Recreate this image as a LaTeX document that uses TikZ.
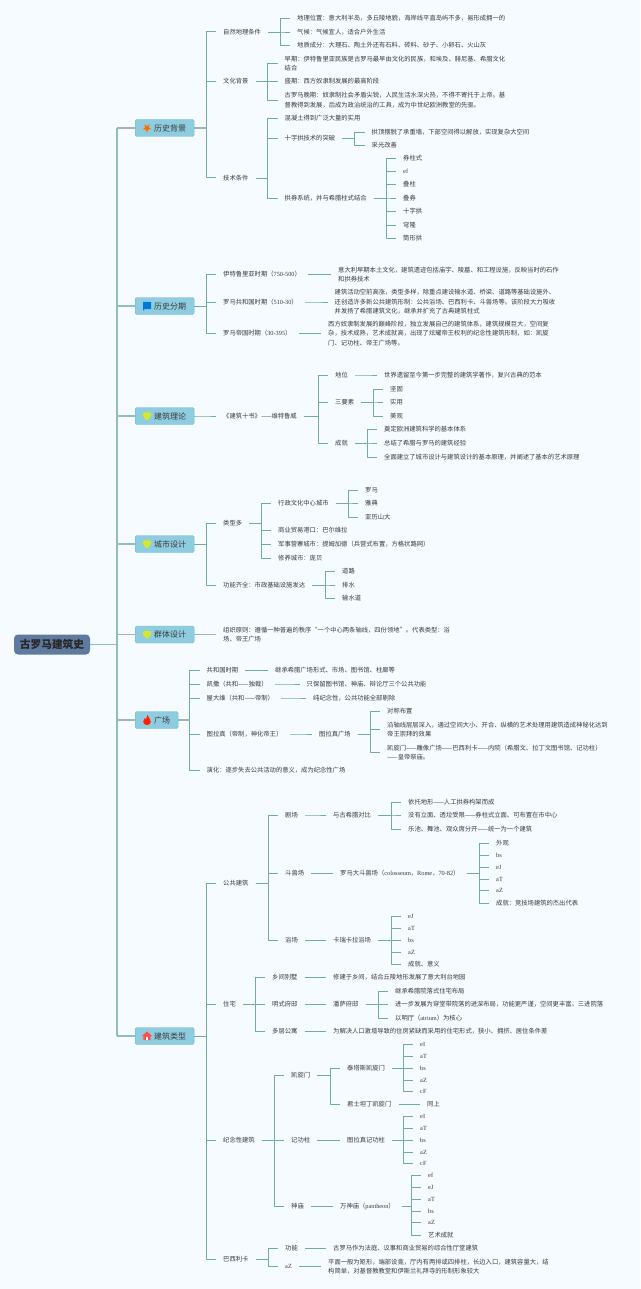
\documentclass[tikz,border=0pt]{standalone}
\usepackage{fontspec}
\setmainfont{Noto Sans CJK SC}
\newfontfamily\latf{Liberation Serif}
\newcommand{\Ltn}[1]{{\latf #1}}
\definecolor{bgc}{HTML}{F6FBFF}
\definecolor{tealc}{HTML}{6FAD9F}
\definecolor{trunkc}{HTML}{8FBFB8}
\definecolor{greyc}{HTML}{A3B3B5}
\definecolor{txtc}{HTML}{3A3A3A}
\definecolor{boxc}{HTML}{8ECDE0}
\definecolor{boxl}{HTML}{74B6CC}
\definecolor{rootc}{HTML}{607A9F}
\tikzset{
  txt/.style={anchor=west,xshift=-7pt,inner xsep=7pt,inner ysep=0pt,align=left,text=txtc,font=\fontsize{6.3}{9.4}\selectfont},
  conn/.style={draw=tealc,line width=0.8pt,line join=round},
  connb/.style={draw=tealc,line width=1pt,line join=round},
  gstub/.style={draw=greyc,line width=1.1pt},
  trunk/.style={draw=trunkc,line width=1.2pt,line join=round},
  lvlbox/.style={anchor=west,fill=boxc,draw=boxl,line width=0.4pt,rounded corners=1.5pt,minimum height=17pt,inner xsep=8pt,inner ysep=0pt,text=txtc,font=\fontsize{8}{9}\selectfont},
  rootbox/.style={fill=rootc,rounded corners=4pt,minimum width=76pt,minimum height=20pt,inner sep=0pt,text=black!85,font=\fontsize{10.7}{12}\selectfont\bfseries}
}
\newcommand{\mmT}[4]{\node[txt] (#1) at (#2,#3) {#4};}
\newcommand{\mmL}[2]{\draw[conn] (#1.east) -| ([xshift=-10pt]#2.west) -- (#2.west);}
\newcommand{\mmB}[2]{\draw[connb] (#1.east) -| ([xshift=-10pt]#2.west) -- (#2.west);}
\newcommand{\mmR}[2]{\draw[#2] (root.east) -| ([xshift=-18pt]#1.west); \draw[#2] ([xshift=-18pt]#1.west) -- (#1.west);}
\newcommand{\mmLs}[2]{\foreach \c in {#2}{\draw[conn] (#1.east) -| ([xshift=-10pt]\c.west) -- (\c.west);}}
\newcommand{\mmBs}[2]{\foreach \c in {#2}{\draw[connb] (#1.east) -| ([xshift=-10pt]\c.west) -- (\c.west);}}
\newcommand{\icoHeart}[1]{\fill[fill=#1] (0,-3.6) .. controls (2.5,-4.4) and (4.6,-3.6) .. (4.4,-1) .. controls (4.2,1.4) and (1.6,3) .. (0,4.2) .. controls (-1.6,3) and (-4.2,1.4) .. (-4.4,-1) .. controls (-4.6,-3.6) and (-2.5,-4.4) .. (0,-3.6) -- cycle;}
\begin{document}
\begin{tikzpicture}[x=1pt,y=-1pt]
\fill[bgc] (0,0) rectangle (640,1289);
\useasboundingbox (0,0) rectangle (640,1289);

% root and first level
\node[rootbox] (root) at (52,644.5) {古罗马建筑史};
\node[lvlbox] (b1) at (135,128) {\hspace{11pt}历史背景};
\node[lvlbox] (b2) at (135,306) {\hspace{11pt}历史分期};
\node[lvlbox] (b3) at (135,416) {\hspace{11pt}建筑理论};
\node[lvlbox] (b4) at (135,544) {\hspace{11pt}城市设计};
\node[lvlbox] (b5) at (135,634.5) {\hspace{11pt}群体设计};
\node[lvlbox] (b6) at (135,720) {\hspace{11pt}广场};
\node[lvlbox] (b7) at (135,1036) {\hspace{11pt}建筑类型};
\mmR{b1}{trunk}\mmR{b2}{trunk}\mmR{b3}{trunk}\mmR{b4}{trunk}\mmR{b5}{trunk}\mmR{b6}{trunk}\mmR{b7}{trunk}
\draw[gstub] ([xshift=-18pt]b1.west) -- (b1.west);
\draw[gstub] ([xshift=-18pt]b5.west) -- (b5.west);
\draw[gstub] ([xshift=-18pt]b6.west) -- (b6.west);

% icons
\begin{scope}[shift={(147,128)}]
\fill[fill=orange!85!red] (90:4.6) -- (126:1.9) -- (162:4.6) -- (198:1.9) -- (234:4.6) -- (270:1.9) -- (306:4.6) -- (342:1.9) -- (18:4.6) -- (54:1.9) -- cycle;
\end{scope}
\begin{scope}[shift={(147,306)}]
\fill[fill=blue!45!cyan!85!black] (-4,-4.2) -- (4,-4.2) -- (4,3) -- (-3,3) -- (-3,4.4) -- (-4,4.4) -- cycle;
\end{scope}
\begin{scope}[shift={(147,416)}]\icoHeart{yellow!80!green!85!white}\end{scope}
\begin{scope}[shift={(147,544)}]\icoHeart{yellow!80!green!85!white}\end{scope}
\begin{scope}[shift={(147,634.5)}]\icoHeart{yellow!80!green!85!white}\end{scope}
\begin{scope}[shift={(147,720)}]
\fill[fill=red!75!orange] (0.4,-5) .. controls (1,-2.6) and (4,-1) .. (3.8,1.8) .. controls (3.6,4) and (1.8,5) .. (0,5) .. controls (-2,5) and (-3.8,3.8) .. (-3.8,1.6) .. controls (-3.8,0) and (-2.8,-0.8) .. (-2.2,-2) .. controls (-1.6,-1.2) and (-1.4,-0.8) .. (-1,-0.6) .. controls (-0.8,-2) and (-0.4,-3.6) .. (0.4,-5) -- cycle;
\end{scope}
\begin{scope}[shift={(147,1036)}]
\fill[fill=red!70!white] (0,-4.6) -- (5,0) -- (3.6,0) -- (3.6,4.2) -- (-3.6,4.2) -- (-3.6,0) -- (-5,0) -- cycle;
\fill[fill=white] (-1.3,1) rectangle (1.3,4.2);
\end{scope}

% ---- 历史背景
\mmT{a1}{223}{32}{自然地理条件}
\mmT{a11}{297}{18}{地理位置：意大利半岛，多丘陵地貌，海岸线平直岛屿不多，易形成拥一的}
\mmT{a12}{297}{32}{气候：气候宜人，适合户外生活}
\mmT{a13}{297}{45.5}{地质成分：大理石、陶土外还有石料、砖料、砂子、小卵石、火山灰}
\mmT{a2}{223}{81.5}{文化背景}
\mmT{a21}{284.5}{63.5}{早期：伊特鲁里亚民族是古罗马最早由文化的民族，和埃及、腓尼基、希腊文化\\结合}
\mmT{a22}{284.5}{81.5}{盛期：西方奴隶制发展的最高阶段}
\mmT{a23}{284.5}{100}{古罗马晚期：奴隶制社会矛盾尖锐，人民生活水深火热，不得不寄托于上帝。基\\督教得到发展，后成为政治统治的工具，成为中世纪欧洲教堂的先驱。}
\mmT{a3}{223}{178}{技术条件}
\mmT{a31}{284.5}{118}{混凝土得到广泛大量的实用}
\mmT{a32}{284.5}{138}{十字拱技术的突破}
\mmT{a321}{371.5}{132}{拱顶摆脱了承重墙，下部空间得以解放，实现复杂大空间}
\mmT{a322}{371.5}{145}{采光改善}
\mmT{a33}{284.5}{198}{拱券系统，并与希腊柱式结合}
\mmT{a331}{403}{158.5}{券柱式}
\mmT{a332}{403}{171.5}{\Ltn{ef}}
\mmT{a333}{403}{184.5}{叠柱}
\mmT{a334}{403}{198}{叠券}
\mmT{a335}{403}{211.5}{十字拱}
\mmT{a336}{403}{225}{穹隆}
\mmT{a337}{403}{238.5}{筒形拱}
\mmBs{b1}{a1,a2,a3}
\mmLs{a1}{a11,a12,a13}
\mmLs{a2}{a21,a22,a23}
\mmLs{a3}{a31,a32,a33}
\mmLs{a32}{a321,a322}
\mmLs{a33}{a331,a332,a333,a334,a335,a336,a337}
\draw[gstub] (b1.east) -- ++(13,0);

% ---- 历史分期
\mmT{c1}{223}{274.5}{伊特鲁里亚时期（\Ltn{750-500}）}
\mmT{c11}{338}{274.5}{意大利早期本土文化，建筑遗迹包括庙宇、陵墓、和工程设施，反映当时的石作\\和拱券技术}
\mmT{c2}{223}{302}{罗马共和国时期（\Ltn{510-30}）}
\mmT{c21}{334.5}{302}{建筑活动空前高涨，类型多样，除重点建设输水道、桥梁、道路等基础设施外、\\还创造许多新公共建筑形制：公共浴场、巴西利卡、斗兽场等。该阶段大力吸收\\并发扬了希腊建筑文化，继承并扩充了古典建筑柱式}
\mmT{c3}{223}{333.5}{罗马帝国时期（\Ltn{30-395}）}
\mmT{c31}{328}{333.5}{西方奴隶制发展的巅峰阶段，独立发展自己的建筑体系，建筑规模巨大，空间复\\杂，技术成熟，艺术成就高，出现了炫耀帝王权利的纪念性建筑形制，如：凯旋\\门、记功柱、帝王广场等。}
\mmBs{b2}{c1,c2,c3}
\mmL{c1}{c11}\mmL{c2}{c21}\mmL{c3}{c31}

% ---- 建筑理论
\mmT{d1}{223}{416}{《建筑十书》——维特鲁威}
\mmT{d11}{335}{375}{地位}
\mmT{d111}{384}{375}{世界遗留至今第一步完整的建筑学著作，复兴古典的范本}
\mmT{d12}{335}{402}{三要素}
\mmT{d121}{390}{389}{坚固}
\mmT{d122}{390}{402}{实用}
\mmT{d123}{390}{416}{美观}
\mmT{d13}{335}{443}{成就}
\mmT{d131}{384}{429.5}{奠定欧洲建筑科学的基本体系}
\mmT{d132}{384}{443}{总结了希腊与罗马的建筑经验}
\mmT{d133}{384}{457}{全面建立了城市设计与建筑设计的基本原理，并阐述了基本的艺术原理}
\mmB{b3}{d1}
\mmLs{d1}{d11,d12,d13}
\mmL{d11}{d111}
\mmLs{d12}{d121,d122,d123}
\mmLs{d13}{d131,d132,d133}

% ---- 城市设计
\mmT{e1}{223}{523.5}{类型多}
\mmT{e11}{278}{503}{行政文化中心城市}
\mmT{e111}{365}{490}{罗马}
\mmT{e112}{365}{503}{雅典}
\mmT{e113}{365}{517}{亚历山大}
\mmT{e12}{278}{530.5}{商业贸易港口：巴尔维拉}
\mmT{e13}{278}{544}{军事营寨城市：提姆加德（兵营式布置，方格状路网）}
\mmT{e14}{278}{558}{修养城市：庞贝}
\mmT{e2}{223}{585}{功能齐全：市政基础设施发达}
\mmT{e21}{342}{571.5}{道路}
\mmT{e22}{342}{585}{排水}
\mmT{e23}{342}{598.5}{输水道}
\mmBs{b4}{e1,e2}
\mmLs{e1}{e11,e12,e13,e14}
\mmLs{e11}{e111,e112,e113}
\mmLs{e2}{e21,e22,e23}

% ---- 群体设计
\mmT{f1}{223}{634.5}{组织原则：遵循一种普遍的秩序“一个中心两条轴线，四份领地”。代表类型：浴\\场、帝王广场}
\draw[gstub] (b5.east) -- (f1.west);

% ---- 广场
\mmT{g1}{206.5}{670.5}{共和国时期}
\mmT{g11}{275}{670.5}{继承希腊广场形式、市场、图书馆、柱廊等}
\mmT{g2}{206.5}{684}{凯撒（共和——独裁）}
\mmT{g21}{306.5}{684}{只保留图书馆、神庙、辩论厅三个公共功能}
\mmT{g3}{206.5}{698}{屋大维（共和——帝制）}
\mmT{g31}{313}{698}{纯纪念性，公共功能全部剔除}
\mmT{g4}{206.5}{734}{图拉真（帝制，神化帝王）}
\mmT{g41}{319}{734}{图拉真广场}
\mmT{g411}{387}{711.5}{对称布置}
\mmT{g412}{387}{729.5}{沿轴线层层深入，通过空间大小、开合、纵横的艺术处理用建筑造成神秘化达到\\帝王崇拜的效果}
\mmT{g413}{387}{752.5}{凯旋门——雕像广场——巴西利卡——内院（希腊文、拉丁文图书馆、记功柱）\\——皇帝祭庙。}
\mmT{g5}{206.5}{770}{演化：逐步失去公共活动的意义，成为纪念性广场}
\mmBs{b6}{g1,g2,g3,g4,g5}
\draw[gstub] (b6.east) -- ++(12,0);
\mmL{g1}{g11}\mmL{g2}{g21}\mmL{g3}{g31}\mmL{g4}{g41}
\mmLs{g41}{g411,g412,g413}

% ---- 建筑类型: 公共建筑
\mmT{h1}{223}{883}{公共建筑}
\mmT{h11}{285}{815}{剧场}
\mmT{h111}{333}{815}{与古希腊对比}
\mmT{h1111}{408}{802}{依托地形——人工拱券构架而成}
\mmT{h1112}{408}{815}{没有立面、透垃受限——券柱式立面、可布置在市中心}
\mmT{h1113}{408}{829}{乐池、舞池、观众席分开——统一为一个建筑}
\mmT{h12}{285}{873}{斗兽场}
\mmT{h121}{340}{873}{罗马大斗兽场（\Ltn{colosseum}，\Ltn{Rome}，\Ltn{70-82}）}
\mmT{h1211}{496}{843}{外观}
\mmT{h1212}{496}{855}{\Ltn{bs}}
\mmT{h1213}{496}{867}{\Ltn{eJ}}
\mmT{h1214}{496}{879}{\Ltn{aT}}
\mmT{h1215}{496}{890.5}{\Ltn{aZ}}
\mmT{h1216}{496}{903}{成就：竞技场建筑的杰出代表}
\mmT{h13}{285}{940}{浴场}
\mmT{h131}{333}{940}{卡瑞卡拉浴场}
\mmT{h1311}{408}{916}{\Ltn{eJ}}
\mmT{h1312}{408}{928}{\Ltn{aT}}
\mmT{h1313}{408}{940}{\Ltn{bs}}
\mmT{h1314}{408}{952}{\Ltn{aZ}}
\mmT{h1315}{408}{964}{成就、意义}
\mmB{b7}{h1}
\mmLs{h1}{h11,h12,h13}
\mmL{h11}{h111}\mmL{h12}{h121}\mmL{h13}{h131}
\mmLs{h111}{h1111,h1112,h1113}
\mmLs{h121}{h1211,h1212,h1213,h1214,h1215,h1216}
\mmLs{h131}{h1311,h1312,h1313,h1314,h1315}

% 住宅
\mmT{i1}{223}{1004}{住宅}
\mmT{i11}{272}{977}{乡间别墅}
\mmT{i111}{333}{977}{修建于乡间，结合丘陵地形发展了意大利台地园}
\mmT{i12}{272}{1004}{明式府邸}
\mmT{i121}{333}{1004}{潘萨府邸}
\mmT{i1211}{395}{991}{继承希腊院落式住宅布局}
\mmT{i1212}{395}{1004}{进一步发展为穿堂带院落的进深布局，功能更严谨，空间更丰富。三进院落}
\mmT{i1213}{395}{1018}{以明厅（\Ltn{atrium}）为核心}
\mmT{i13}{272}{1031}{多层公寓}
\mmT{i131}{333}{1031}{为解决人口激增导致的住房紧缺而采用的住宅形式，狭小、拥挤、居住条件差}
\mmB{b7}{i1}
\mmLs{i1}{i11,i12,i13}
\mmL{i11}{i111}\mmL{i12}{i121}\mmL{i13}{i131}
\mmLs{i121}{i1211,i1212,i1213}

% 纪念性建筑
\mmT{j1}{223}{1140}{纪念性建筑}
\mmT{j11}{291}{1075}{凯旋门}
\mmT{j111}{347}{1068}{泰塔斯凯旋门}
\mmT{j1111}{420}{1044.5}{\Ltn{eI}}
\mmT{j1112}{420}{1056}{\Ltn{aT}}
\mmT{j1113}{420}{1068}{\Ltn{bs}}
\mmT{j1114}{420}{1080}{\Ltn{aZ}}
\mmT{j1115}{420}{1091}{\Ltn{cF}}
\mmT{j112}{347}{1104}{君士坦丁凯旋门}
\mmT{j1121}{427}{1104}{同上}
\mmT{j12}{291}{1140}{记功柱}
\mmT{j121}{347}{1140}{图拉真记功柱}
\mmT{j1211}{420}{1116.5}{\Ltn{eI}}
\mmT{j1212}{420}{1128.5}{\Ltn{aT}}
\mmT{j1213}{420}{1140}{\Ltn{bs}}
\mmT{j1214}{420}{1152}{\Ltn{aZ}}
\mmT{j1215}{420}{1163}{\Ltn{cF}}
\mmT{j13}{291}{1206}{神庙}
\mmT{j131}{340}{1206}{万神庙（\Ltn{pantheon}）}
\mmT{j1311}{428}{1175.5}{\Ltn{ef}}
\mmT{j1312}{428}{1187}{\Ltn{eJ}}
\mmT{j1313}{428}{1199}{\Ltn{aT}}
\mmT{j1314}{428}{1211}{\Ltn{bs}}
\mmT{j1315}{428}{1222.5}{\Ltn{aZ}}
\mmT{j1316}{428}{1235}{艺术成就}
\mmB{b7}{j1}
\mmLs{j1}{j11,j12,j13}
\mmLs{j11}{j111,j112}
\mmL{j12}{j121}\mmL{j13}{j131}
\mmLs{j111}{j1111,j1112,j1113,j1114,j1115}
\mmL{j112}{j1121}
\mmLs{j121}{j1211,j1212,j1213,j1214,j1215}
\mmLs{j131}{j1311,j1312,j1313,j1314,j1315,j1316}

% 巴西利卡
\mmT{k1}{223}{1259.5}{巴西利卡}
\mmT{k11}{285}{1248.5}{功能}
\mmT{k111}{333}{1248.5}{古罗马作为法庭、议事和商业贸易的综合性厅堂建筑}
\mmT{k12}{285}{1266.5}{\Ltn{aZ}}
\mmT{k121}{328}{1266.5}{平面一般为矩形，端部设龛，厅内有两排或四排柱，长边入口，建筑容量大，结\\构简单，对基督教教堂和伊斯兰礼拜寺的形制形象较大}
\mmB{b7}{k1}
\mmLs{k1}{k11,k12}
\mmL{k11}{k111}\mmL{k12}{k121}
\end{tikzpicture}
\end{document}
